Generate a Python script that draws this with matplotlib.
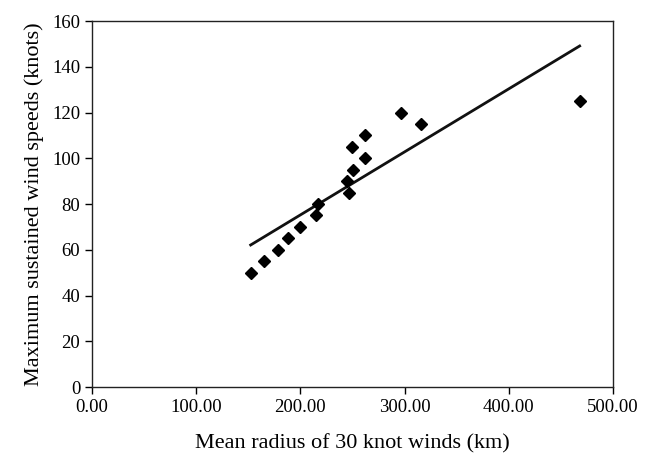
import numpy as np
import matplotlib
matplotlib.use("Agg")
import matplotlib.pyplot as plt
from matplotlib.ticker import FormatStrFormatter

# mean radius of 30 knot winds (km) and max sustained wind speed (knots)
radius = [152.3, 165.4, 178.5, 188.4, 199.6, 215.0, 216.6, 246.6,
          245.0, 250.8, 262.0, 249.5, 262.0, 296.5, 316.0, 468.0]
speed = [50, 55, 60, 65, 70, 75, 80, 85,
         90, 95, 100, 105, 110, 120, 115, 125]

plt.rcParams["font.family"] = ["Liberation Serif", "DejaVu Serif"]

fig = plt.figure(figsize=(6.51, 4.61), dpi=100)
ax = fig.add_axes([0.1413, 0.1605, 0.8003, 0.7939])

ax.plot(radius, speed, "D", color="black", markersize=6, zorder=3)

# linear trend line over the data range
k, b = np.polyfit(radius, speed, 1)
xs = np.array([min(radius), max(radius)])
ax.plot(xs, k * xs + b, "-", color="#111111", linewidth=2)

ax.set_xlim(0, 500)
ax.set_ylim(0, 160)
ax.set_xticks(np.arange(0, 501, 100))
ax.set_yticks(np.arange(0, 161, 20))
ax.xaxis.set_major_formatter(FormatStrFormatter("%.2f"))
ax.tick_params(direction="out", length=5, width=1, labelsize=13.5,
               colors="black")
for s in ax.spines.values():
    s.set_linewidth(1)
    s.set_color("#222222")

ax.set_xlabel("Mean radius of 30 knot winds (km)", fontsize=16, labelpad=13)
ax.set_ylabel("Maximum sustained wind speeds (knots)", fontsize=16, labelpad=6)

fig.savefig("out.png", dpi=100)
